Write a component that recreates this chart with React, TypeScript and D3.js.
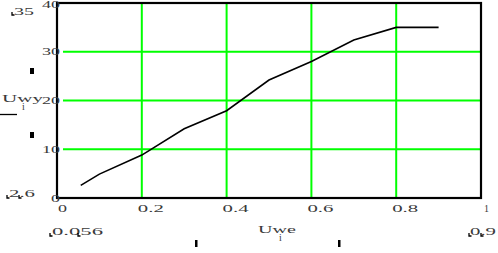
import React from "react";
import * as d3 from "d3";

const uwe = [0.056, 0.1, 0.2, 0.3, 0.4, 0.5, 0.6, 0.7, 0.8, 0.9];
const uwy = [2.6, 4.9, 8.8, 14.2, 17.9, 24.2, 28.0, 32.4, 35.0, 35.0];
const xTicks = [0, 0.2, 0.4, 0.6, 0.8, 1];
const xTickLabels = ["0", "0.2", "0.4", "0.6", "0.8", "1"];
const yTicks = [0, 10, 20, 30, 40];
const yTickLabels = ["0", "10", "20", "30", "40"];
const xLimitLabels = ["0.056", "0.9"];
const yLimitLabels = ["2.6", "35"];

const W = 498;
const H = 253;
const L = 57, R = 481, T = 3, B = 198;
const FONT = "'Liberation Serif', 'DejaVu Serif', serif";
const TXT = "#3a3a3a";

function Mark({ x, y }: { x: number; y: number }) {
  return <path d={`M${x},${y - 3}V${y}H${x + 2.5}`} stroke="#000" strokeWidth={1.3} fill="none" />;
}

export default function App() {
  const x = d3.scaleLinear().domain([0, 1]).range([L, R]);
  const y = d3.scaleLinear().domain([0, 40]).range([B, T]);
  const line = d3.line<number>().x((_, i) => x(uwe[i])).y((d) => y(d));

  const xLabelOffsets = [1, -4, -4, -4, -4, 3];
  const xLabelWidths = [9, 26, 26, 26, 26, 5];

  return (
    <svg width={W} height={H} style={{ position: "absolute", left: 0, top: 0, background: "#fff" }}>
      <rect x={0} y={0} width={W} height={H} fill="#fff" />
      {xTicks.slice(1, -1).map((t) => (
        <line key={"gx" + t} x1={x(t)} x2={x(t)} y1={T} y2={B} stroke="#00ff00" strokeWidth={2} />
      ))}
      {yTicks.slice(1, -1).map((t) => (
        <line key={"gy" + t} x1={L + 6} x2={R} y1={y(t)} y2={y(t)} stroke="#00ff00" strokeWidth={2} />
      ))}
      <path d={line(uwy) || ""} fill="none" stroke="#000" strokeWidth={1.6} />
      <rect x={L} y={T} width={R - L} height={B - T} fill="none" stroke="#000" strokeWidth={2.2} />
      {yTicks.map((t, i) => (
        <text
          key={"yl" + t}
          x={60}
          y={Math.max(y(t) + 3.5, 8)}
          textAnchor="end"
          fontFamily={FONT}
          fontSize={11}
          fill={TXT}
          textLength={yTickLabels[i].length === 1 ? 9 : 18}
          lengthAdjust="spacingAndGlyphs"
        >
          {yTickLabels[i]}
        </text>
      ))}
      {xTicks.map((t, i) => (
        <text
          key={"xl" + t}
          x={x(t) + xLabelOffsets[i]}
          y={212}
          fontFamily={FONT}
          fontSize={11}
          fill={TXT}
          textLength={xLabelWidths[i]}
          lengthAdjust="spacingAndGlyphs"
        >
          {xTickLabels[i]}
        </text>
      ))}
      <text x={14} y={14.5} fontFamily={FONT} fontSize={11} fill={TXT} textLength={20} lengthAdjust="spacingAndGlyphs">
        {yLimitLabels[1]}
      </text>
      <Mark x={12} y={15} />
      <text x={9} y={197} fontFamily={FONT} fontSize={11} fill={TXT} textLength={26} lengthAdjust="spacingAndGlyphs">
        {yLimitLabels[0]}
      </text>
      <Mark x={7} y={198} />
      <Mark x={19} y={198} />
      <text x={52} y={235} fontFamily={FONT} fontSize={11} fill={TXT} textLength={51} lengthAdjust="spacingAndGlyphs">
        {xLimitLabels[0]}
      </text>
      <Mark x={50} y={236} />
      <Mark x={78} y={236} />
      <text x={470} y={235} fontFamily={FONT} fontSize={11} fill={TXT} textLength={26} lengthAdjust="spacingAndGlyphs">
        {xLimitLabels[1]}
      </text>
      <Mark x={469} y={236} />
      <Mark x={481} y={236} />
      <text x={2} y={102} fontFamily={FONT} fontSize={11} fill={TXT} textLength={41} lengthAdjust="spacingAndGlyphs">
        Uwy
      </text>
      <text x={22} y={110} fontFamily={FONT} fontSize={10} fill={TXT}>
        i
      </text>
      <line x1={0} x2={17} y1={114.5} y2={114.5} stroke="#000" strokeWidth={1.3} />
      <rect x={30} y={68} width={4} height={6} fill="#000" />
      <rect x={30} y={132} width={4} height={6} fill="#000" />
      <text x={258} y={233} fontFamily={FONT} fontSize={11} fill={TXT} textLength={38} lengthAdjust="spacingAndGlyphs">
        Uwe
      </text>
      <text x={279} y={241} fontFamily={FONT} fontSize={10} fill={TXT}>
        i
      </text>
      <rect x={195} y={240} width={2.5} height={7} fill="#000" />
      <rect x={338} y={240} width={2.5} height={7} fill="#000" />
    </svg>
  );
}
